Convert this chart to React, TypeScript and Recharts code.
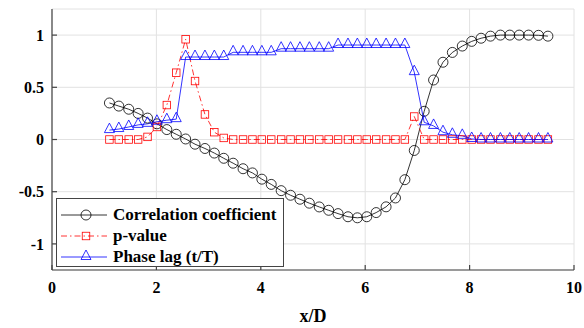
import { LineChart, Line, XAxis, YAxis, CartesianGrid, Legend } from 'recharts'

// x/D stations
const xD = [
	1.1, 1.28, 1.47, 1.65, 1.83, 2.01, 2.2, 2.38, 2.56, 2.74, 2.93, 3.11, 3.29, 3.47, 3.66, 3.84,
	4.02, 4.2, 4.39, 4.57, 4.75, 4.93, 5.12, 5.3, 5.48, 5.67, 5.85, 6.03, 6.21, 6.4, 6.58, 6.76,
	6.94, 7.13, 7.31, 7.49, 7.67, 7.86, 8.04, 8.22, 8.4, 8.59, 8.77, 8.95, 9.13, 9.32, 9.5,
]

const corr = [
	0.35, 0.32, 0.29, 0.25, 0.205, 0.15, 0.095, 0.05, 0.005, -0.045, -0.086, -0.13, -0.18, -0.227,
	-0.28, -0.32, -0.38, -0.43, -0.49, -0.534, -0.572, -0.61, -0.646, -0.678, -0.71, -0.74, -0.75,
	-0.74, -0.7, -0.645, -0.56, -0.385, -0.105, 0.27, 0.57, 0.74, 0.834, 0.895, 0.94, 0.97, 0.99,
	1.0, 1.0, 1.0, 1.0, 0.998, 0.99,
]

const pValue = [
	0, 0, 0, 0, 0.025, 0.12, 0.33, 0.64, 0.96, 0.56, 0.24, 0.07, 0.015, 0, 0, 0, 0, 0, 0, 0, 0, 0,
	0, 0, 0, 0, 0, 0, 0, 0, 0, 0, 0.22, 0, 0, 0, 0, 0, 0, 0, 0, 0, 0, 0, 0, 0, 0,
]

const phaseLag = [
	0.09, 0.1, 0.12, 0.14, 0.15, 0.17, 0.185, 0.195, 0.79, 0.79, 0.79, 0.79, 0.79, 0.835, 0.835,
	0.835, 0.835, 0.835, 0.87, 0.87, 0.87, 0.87, 0.87, 0.87, 0.905, 0.905, 0.905, 0.905, 0.905,
	0.905, 0.905, 0.905, 0.645, 0.165, 0.13, 0.07, 0.045, 0.035, 0.005, 0, 0, 0, 0, 0, 0, 0, 0,
]

const xTicks = [0, 2, 4, 6, 8, 10]
const yTicks = [-1, -0.5, 0, 0.5, 1]

const data = xD.map((x, i) => ({ x, corr: corr[i], p: pValue[i], lag: phaseLag[i] }))

const FONT = "'Liberation Serif', 'Times New Roman', Times, serif"
const AXIS = '#444'

const series = [
	{ key: 'corr', name: 'Correlation coefficient', color: '#000000', dash: undefined, marker: 'circle' },
	{ key: 'p', name: 'p-value', color: '#ff0000', dash: '6 3 1.5 3', marker: 'square' },
	{ key: 'lag', name: 'Phase lag (t/T)', color: '#0000ff', dash: undefined, marker: 'triangle' },
]

function marker(kind: string, cx: number, cy: number, color: string, key?: string) {
	if (kind === 'circle')
		return <circle key={key} cx={cx} cy={cy} r={5} fill="none" stroke={color} strokeWidth={0.8} />
	if (kind === 'square')
		return <rect key={key} x={cx - 3.75} y={cy - 3.75} width={7.5} height={7.5} fill="none" stroke={color} strokeWidth={0.8} />
	return (
		<polygon
			key={key}
			points={`${cx},${cy - 7} ${cx - 5},${cy + 2.5} ${cx + 5},${cy + 2.5}`}
			fill="none"
			stroke={color}
			strokeWidth={0.8}
		/>
	)
}

const renderLegend = () => (
	<div
		style={{
			border: `1px solid ${AXIS}`,
			background: '#fff',
			padding: '5px 0 0 0',
			boxSizing: 'border-box',
			width: 228,
			height: 69,
		}}>
		{series.map((s) => (
			<div key={s.key} style={{ display: 'flex', alignItems: 'center', height: 21 }}>
				<svg width={56} height={20} style={{ display: 'block', flex: 'none' }}>
					<line x1={4} y1={10} x2={50} y2={10} stroke={s.color} strokeWidth={0.8} strokeDasharray={s.dash} />
					{marker(s.marker, 29, 10, s.color)}
				</svg>
				<span style={{ fontFamily: FONT, fontWeight: 'bold', fontSize: 17, color: '#000', lineHeight: '20px', whiteSpace: 'nowrap' }}>
					{s.name}
				</span>
			</div>
		))}
	</div>
)

export default function App() {
	return (
		<div style={{ position: 'absolute', left: 0, top: 0, fontFamily: FONT }}>
			<LineChart width={584} height={328} data={data} margin={{ top: 9, right: 10, bottom: 0, left: 0 }}>
				<CartesianGrid stroke="#e2e2e2" strokeWidth={1} />
				<XAxis
					dataKey="x"
					type="number"
					domain={[0, 10]}
					ticks={xTicks}
					allowDataOverflow
					height={58}
					tickSize={-5}
					tickMargin={17}
					stroke={AXIS}
					strokeWidth={1.2}
					tick={{ fill: '#000', fontSize: 16, fontWeight: 'bold', fontFamily: FONT }}
					label={{ value: 'x/D', position: 'insideBottom', offset: 6, fill: '#000', fontSize: 18, fontWeight: 'bold', fontFamily: FONT }}
				/>
				<XAxis
					xAxisId="top"
					orientation="top"
					dataKey="x"
					type="number"
					domain={[0, 10]}
					ticks={xTicks}
					allowDataOverflow
					height={0}
					tickSize={-5}
					tick={false}
					stroke={AXIS}
					strokeWidth={1.2}
				/>
				<YAxis
					type="number"
					domain={[-1.25, 1.25]}
					ticks={yTicks}
					allowDataOverflow
					width={52}
					tickSize={-5}
					tickMargin={13}
					stroke={AXIS}
					strokeWidth={1.2}
					tick={{ fill: '#000', fontSize: 16, fontWeight: 'bold', fontFamily: FONT }}
				/>
				<YAxis
					yAxisId="right"
					orientation="right"
					type="number"
					domain={[-1.25, 1.25]}
					ticks={yTicks}
					allowDataOverflow
					width={0}
					tickSize={-5}
					tick={false}
					stroke={AXIS}
					strokeWidth={1.2}
				/>
				{series.map((s) => (
					<Line
						key={s.key}
						dataKey={s.key}
						name={s.name}
						stroke={s.color}
						strokeWidth={0.8}
						strokeDasharray={s.dash}
						type="linear"
						isAnimationActive={false}
						dot={(props: any) => marker(s.marker, props.cx, props.cy, s.color, `${s.key}-${props.index}`)}
						activeDot={false}
					/>
				))}
				<Legend
					layout="vertical"
					align="center"
					verticalAlign="middle"
					content={renderLegend}
					wrapperStyle={{ left: 56, top: 198, width: 228, height: 69 }}
				/>
			</LineChart>
		</div>
	)
}
